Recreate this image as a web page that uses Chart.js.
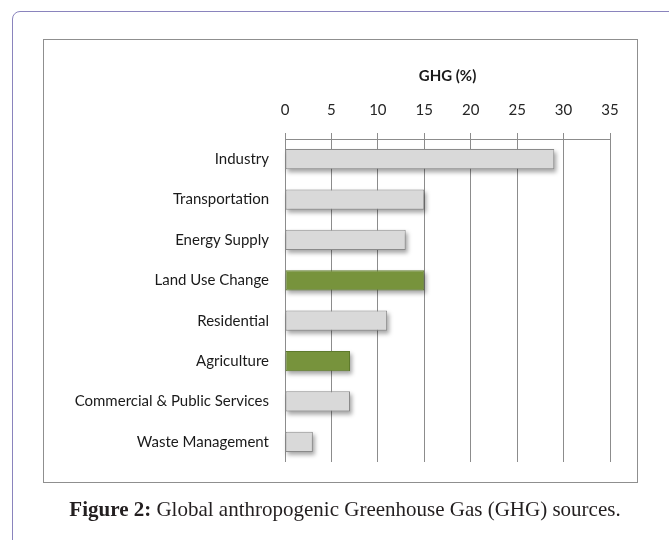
<!DOCTYPE html>
<html>
<head>
<meta charset="utf-8">
<script src="https://cdn.jsdelivr.net/npm/chart.js@4/dist/chart.umd.min.js"></script>
<style>
    html, body { margin: 0; padding: 0; background: #fff; overflow: hidden; }
    #page { position: relative; width: 669px; height: 540px; }
    #frame {
        position: absolute; left: 12px; top: 11px; width: 720px; height: 620px;
        border: 1.5px solid #8a84bd; border-radius: 8px; box-sizing: border-box;
    }
    #box {
        position: absolute; left: 43px; top: 39px; width: 595px; height: 444px;
        border: 1px solid #8f8f8f; box-sizing: border-box;
    }
    #chart { position: absolute; left: 0; top: 0; }
    #caption {
        position: absolute; left: 0; width: 690px; top: 497px; text-align: center;
        font-family: "Liberation Serif", "Times New Roman", serif; font-size: 21px; color: #231f20;
    }
</style>
</head>
<body>
<div id="page">
    <div id="frame"></div>
    <div id="box"></div>
    <canvas id="chart" width="669" height="540"></canvas>
    <div id="caption"><b>Figure 2:</b> Global anthropogenic Greenhouse Gas (GHG) sources.</div>
</div>
<script>
// GHG share by sector (%)
const categories = [
    "Industry", "Transportation", "Energy Supply", "Land Use Change",
    "Residential", "Agriculture", "Commercial & Public Services", "Waste Management"
];
const ghgShare = [29, 15, 13, 15, 11, 7, 7, 3];
const landSectors = ["Land Use Change", "Agriculture"];
const xTicks = [0, 5, 10, 15, 20, 25, 30, 35];

const GREY = "#d9d9d9", GREY_EDGE = "#8a8a8a";
const GREEN = "#77933c", GREEN_EDGE = "#5e7a2c";
const labelFont = { family: "Lato, 'Open Sans', sans-serif", size: 15 };

// soft drop shadow under each bar, drawn before the bars themselves
const barShadow = {
    id: "barShadow",
    beforeDatasetsDraw(chart) {
        const ctx = chart.ctx;
        const meta = chart.getDatasetMeta(0);
        ctx.save();
        ctx.filter = "blur(2px)";
        ctx.fillStyle = "rgba(0,0,0,0.35)";
        meta.data.forEach(bar => {
            const { x, y, base, height } = bar.getProps(["x", "y", "base", "height"], true);
            ctx.fillRect(base + 2, y - height / 2 + 3, x - base, height);
        });
        ctx.restore();
    }
};

new Chart(document.getElementById("chart"), {
    type: "bar",
    data: {
        labels: categories,
        datasets: [{
            data: ghgShare,
            backgroundColor: categories.map(c => landSectors.includes(c) ? GREEN : GREY),
            borderColor: categories.map(c => landSectors.includes(c) ? GREEN_EDGE : GREY_EDGE),
            borderWidth: 1,
            borderSkipped: false,
            barPercentage: 0.5,
            categoryPercentage: 1
        }]
    },
    options: {
        indexAxis: "y",
        responsive: false,
        animation: false,
        layout: { padding: { left: 44, top: 40, right: 59, bottom: 78 } },
        plugins: { legend: { display: false }, tooltip: { enabled: false } },
        scales: {
            x: {
                position: "top",
                min: 0,
                max: 35,
                afterBuildTicks: scale => { scale.ticks = xTicks.map(v => ({ value: v })); },
                afterFit: scale => { scale.height = 99; },
                grid: { color: "#8c8c8c", lineWidth: 1, tickLength: 6 },
                border: { color: "#8c8c8c" },
                ticks: { color: "#262626", font: labelFont, padding: 14, maxRotation: 0 },
                title: {
                    display: true,
                    text: "GHG (%)",
                    color: "#1a1a1a",
                    font: { family: labelFont.family, size: 15, weight: "bold" },
                    padding: { top: 27, bottom: 0 }
                }
            },
            y: {
                afterFit: scale => { scale.width = 241; },
                grid: { display: false, drawTicks: false },
                border: { display: false },
                ticks: { color: "#1a1a1a", font: labelFont, padding: 16 }
            }
        }
    },
    plugins: [barShadow]
});
</script>
</body>
</html>
